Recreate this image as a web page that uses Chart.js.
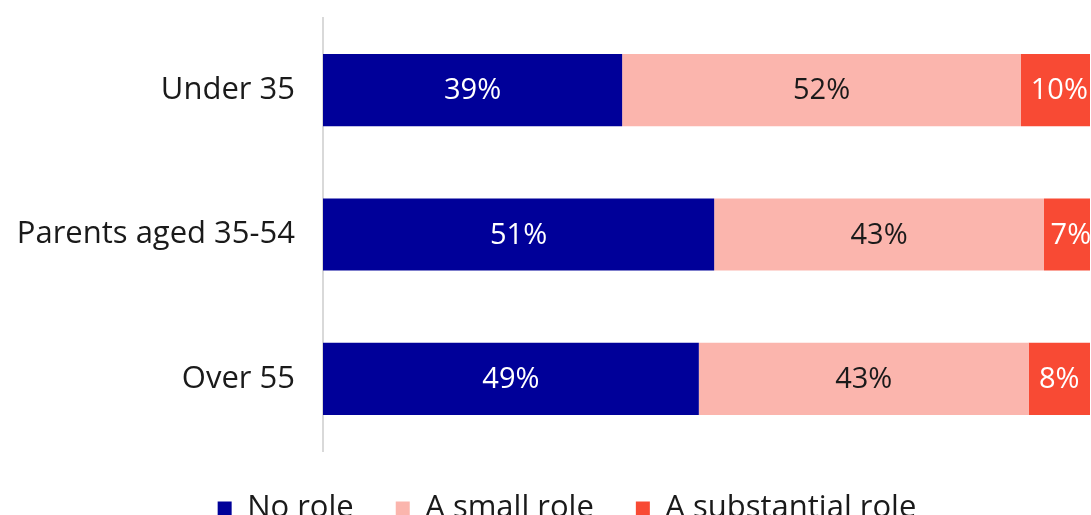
<!DOCTYPE html>
<html>
<head>
<meta charset="utf-8">
<script src="https://cdn.jsdelivr.net/npm/chart.js@4.4.1/dist/chart.umd.min.js"></script>
<style>
  html, body { margin: 0; padding: 0; background: #fff; overflow: hidden; }
  #wrap { width: 1091px; height: 534px; position: relative; }
</style>
</head>
<body>
<div id="wrap"><canvas id="chart"></canvas></div>
<script>
// Age groups shown on the vertical axis
const categories = ['Under 35', 'Parents aged 35-54', 'Over 55'];

// Share of respondents (%) per answer, one entry per age group
const noRole = [39, 51, 49];
const smallRole = [52, 43, 43];
const substantialRole = [10, 7, 8];

const seriesNames = ['No role', 'A small role', 'A substantial role'];
const seriesColors = ['#000099', '#fbb5ad', '#f84a34'];
const labelColors = ['#ffffff', '#1a1a1a', '#ffffff'];

const FONT = "'Open Sans', 'Noto Sans', sans-serif";

// Writes each segment's percentage at the centre of its bar
const segmentLabels = {
  id: 'segmentLabels',
  afterDatasetsDraw(chart) {
    const ctx = chart.ctx;
    ctx.save();
    ctx.font = "400 29px " + FONT;
    ctx.textAlign = 'center';
    ctx.textBaseline = 'middle';
    chart.data.datasets.forEach((ds, di) => {
      const meta = chart.getDatasetMeta(di);
      if (meta.hidden) return;
      meta.data.forEach((bar, i) => {
        const p = bar.getProps(['x', 'y', 'base'], true);
        const cx = (p.x + p.base) / 2;
        ctx.fillStyle = labelColors[di];
        ctx.fillText(ds.data[i] + '%', cx, p.y + 1);
      });
    });
    ctx.restore();
  }
};

// Centres the legend under the plotted bars rather than the whole canvas
const legendOffset = {
  id: 'legendOffset',
  afterLayout(chart) {
    const lg = chart.legend;
    if (!lg) return;
    const shift = 22;
    lg.left += shift;
    lg.right += shift;
    (lg.legendHitBoxes || []).forEach(h => { h.left += shift; });
  }
};

new Chart(document.getElementById('chart'), {
  type: 'bar',
  data: {
    labels: categories,
    datasets: [
      { label: seriesNames[0], data: noRole, backgroundColor: seriesColors[0] },
      { label: seriesNames[1], data: smallRole, backgroundColor: seriesColors[1] },
      { label: seriesNames[2], data: substantialRole, backgroundColor: seriesColors[2] }
    ]
  },
  options: {
    indexAxis: 'y',
    responsive: true,
    maintainAspectRatio: false,
    animation: false,
    layout: { padding: { top: 18, right: 1, left: 0, bottom: 0 } },
    datasets: {
      bar: { barPercentage: 0.5, categoryPercentage: 1.0, borderWidth: 0 }
    },
    scales: {
      x: {
        stacked: true,
        min: 0,
        max: 100,
        display: false
      },
      y: {
        stacked: true,
        grid: { display: false },
        border: { display: true, color: '#d9d9d9', width: 2 },
        ticks: {
          color: '#1a1a1a',
          padding: 20,
          font: { family: FONT, size: 31, weight: '400' }
        },
        afterFit(scale) {
          scale.width = 323;
          scale.paddingTop = 0;
          scale.paddingBottom = 0;
        }
      }
    },
    plugins: {
      legend: {
        position: 'bottom',
        labels: {
          color: '#1a1a1a',
          boxWidth: 14,
          boxHeight: 14,
          padding: 42,
          font: { family: FONT, size: 31, weight: '400' }
        }
      },
      tooltip: { enabled: false }
    }
  },
  plugins: [segmentLabels, legendOffset]
});
</script>
</body>
</html>
